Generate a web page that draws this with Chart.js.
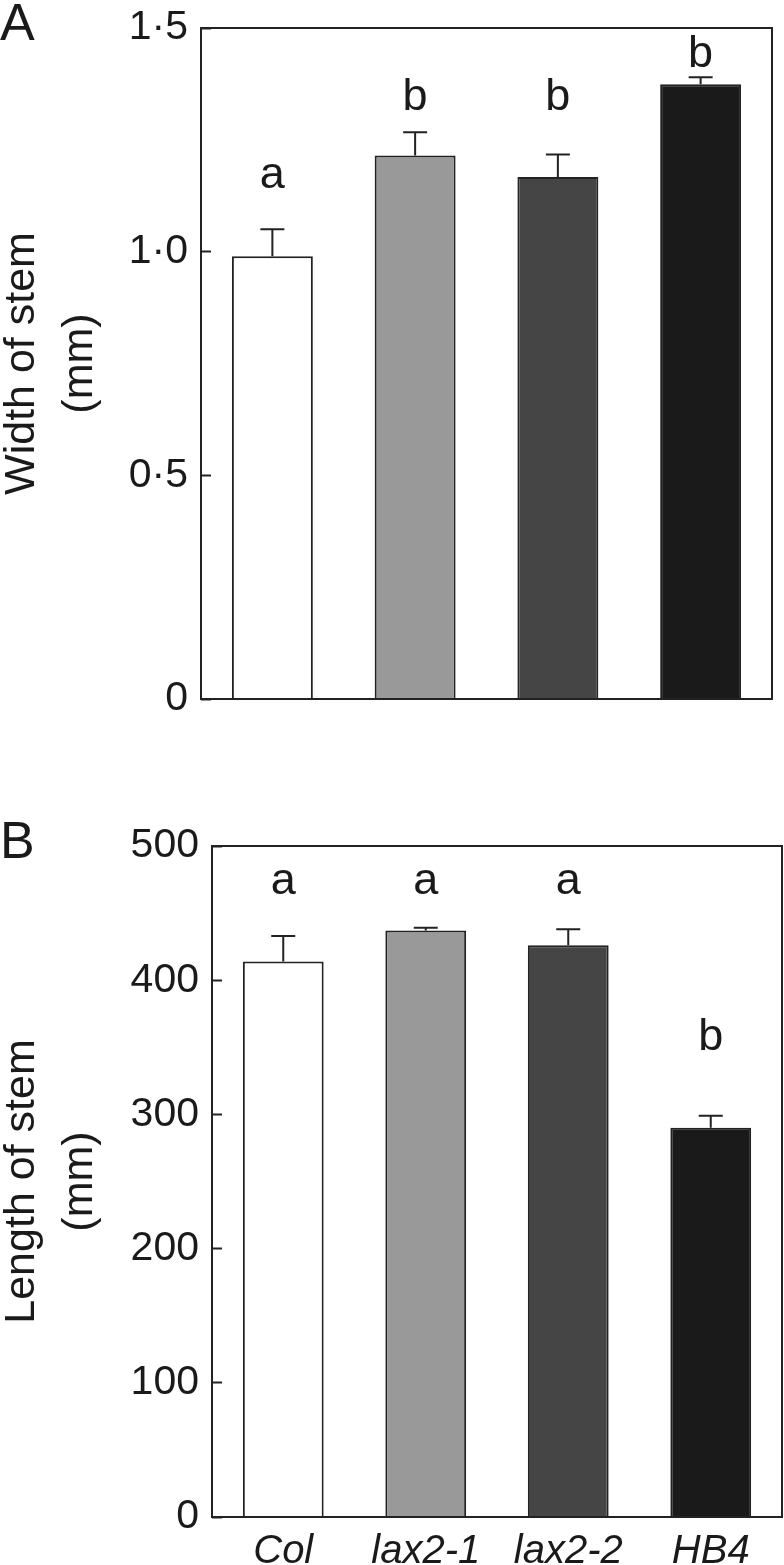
<!DOCTYPE html>
<html>
<head>
<meta charset="utf-8">
<script src="https://cdn.jsdelivr.net/npm/chart.js@4.4.0/dist/chart.umd.min.js"></script>
<style>
  html, body { margin: 0; padding: 0; background: #fff; }
  #wrap { position: relative; width: 784px; height: 1565px; }
  #chartA { position: absolute; left: 0; top: 0; }
  #chartB { position: absolute; left: 0; top: 770px; }
</style>
</head>
<body>
<div id="wrap">
  <canvas id="chartA" width="784" height="770"></canvas>
  <canvas id="chartB" width="784" height="795"></canvas>
</div>
<script>
// --- data ---
const genotypes = ['Col', 'lax2-1', 'lax2-2', 'HB4'];
const barColors = ['#ffffff', '#999999', '#454545', '#1a1a1a'];

// panel A: width of stem (mm)
const widthMean = [0.99, 1.215, 1.167, 1.374];
const widthErr = [0.06, 0.052, 0.05, 0.016];
const widthLetters = ['a', 'b', 'b', 'b'];
const widthLetterAt = [1.142, 1.317, 1.317, 1.413];   // baseline of letter, data units
const widthTicks = [0, 0.5, 1.0, 1.5];

// panel B: length of stem (mm)
const lengthMean = [414, 437, 426, 290];
const lengthErr = [19, 2, 12, 9];
const lengthLetters = ['a', 'a', 'a', 'b'];
const lengthLetterAt = [464, 464, 464, 348];
const lengthTicks = [0, 100, 200, 300, 400, 500];

const FONT = "'Liberation Sans', Arial, Helvetica, sans-serif";
const INK = '#1a1a1a';
const LINE = '#222';

// --- error bars, significance letters, frame and panel letter ---
const panelDecor = {
    id: 'panelDecor',
    afterDatasetsDraw(chart, args, opts) {
        const { ctx, chartArea } = chart;
        const y = chart.scales.y;
        const bars = chart.getDatasetMeta(0).data;
        ctx.save();
        ctx.strokeStyle = LINE;
        ctx.lineWidth = 2;
        bars.forEach((bar, i) => {
            const yBar = y.getPixelForValue(opts.mean[i]);
            const yTop = y.getPixelForValue(opts.mean[i] + opts.err[i]);
            ctx.beginPath();
            ctx.moveTo(bar.x, yBar);
            ctx.lineTo(bar.x, yTop);
            ctx.moveTo(bar.x - 12, yTop);
            ctx.lineTo(bar.x + 12, yTop);
            ctx.stroke();
        });
        // frame round the plot
        ctx.strokeRect(chartArea.left, chartArea.top,
            chartArea.right - chartArea.left, chartArea.bottom - chartArea.top);

        ctx.fillStyle = INK;
        ctx.font = `45px ${FONT}`;
        ctx.textAlign = 'center';
        ctx.textBaseline = 'alphabetic';
        bars.forEach((bar, i) => {
            ctx.fillText(opts.letters[i], bar.x, y.getPixelForValue(opts.letterAt[i]));
        });

        ctx.font = `52px ${FONT}`;
        ctx.textAlign = 'left';
        ctx.fillText(opts.panel, 0, opts.panelBaseline);
        ctx.restore();
    }
};

function makePanel(canvasId, o) {
    return new Chart(document.getElementById(canvasId), {
        type: 'bar',
        data: {
            labels: genotypes,
            datasets: [{
                data: o.mean,
                backgroundColor: barColors,
                borderColor: LINE,
                borderWidth: 2,
                barPercentage: 0.567,
                categoryPercentage: 1
            }]
        },
        options: {
            responsive: false,
            animation: false,
            layout: { padding: o.padding },
            plugins: {
                legend: { display: false },
                tooltip: { enabled: false },
                panelDecor: {
                    mean: o.mean, err: o.err, letters: o.letters, letterAt: o.letterAt,
                    panel: o.panel, panelBaseline: o.panelBaseline
                }
            },
            scales: {
                x: {
                    grid: { display: false, drawTicks: false },
                    border: { display: false },
                    ticks: {
                        display: o.showX,
                        color: INK,
                        padding: 11,
                        font: { family: FONT, size: 40, style: 'italic' }
                    },
                    afterFit: s => {
                        s.height = o.xHeight;
                        s.paddingLeft = 0; s.paddingRight = 0;
                    }
                },
                y: {
                    min: 0,
                    max: o.ticks[o.ticks.length - 1],
                    afterBuildTicks: s => { s.ticks = o.ticks.map(v => ({ value: v })); },
                    grid: { drawOnChartArea: false, tickLength: -10, tickWidth: 2, tickColor: LINE },
                    border: { display: false },
                    ticks: {
                        color: INK,
                        padding: 23,
                        font: { family: FONT, size: 41 },
                        callback: v => o.fmt(v)
                    },
                    title: {
                        display: true,
                        text: o.title,
                        color: INK,
                        font: { family: FONT, size: 43, lineHeight: 58 / 43 },
                        padding: { top: -7, bottom: 0 }
                    },
                    afterFit: s => {
                        s.width = o.yWidth;
                        s.paddingTop = 0; s.paddingBottom = 0;
                    }
                }
            }
        },
        plugins: [panelDecor]
    });
}

makePanel('chartA', {
    mean: widthMean, err: widthErr, letters: widthLetters, letterAt: widthLetterAt,
    ticks: widthTicks,
    fmt: v => v === 0 ? '0' : v.toFixed(1).replace('.', '\u00B7'),
    title: ['Width of stem', '(mm)'],
    panel: 'A', panelBaseline: 40,
    showX: false, xHeight: 0, yWidth: 201,
    padding: { left: 0, right: 12, top: 28, bottom: 71 }
});

makePanel('chartB', {
    mean: lengthMean, err: lengthErr, letters: lengthLetters, letterAt: lengthLetterAt,
    ticks: lengthTicks,
    fmt: v => String(v),
    title: ['Length of stem', '(mm)'],
    panel: 'B', panelBaseline: 88,
    showX: true, xHeight: 48, yWidth: 212,
    padding: { left: 0, right: 2, top: 76, bottom: 0 }
});
</script>
</body>
</html>
